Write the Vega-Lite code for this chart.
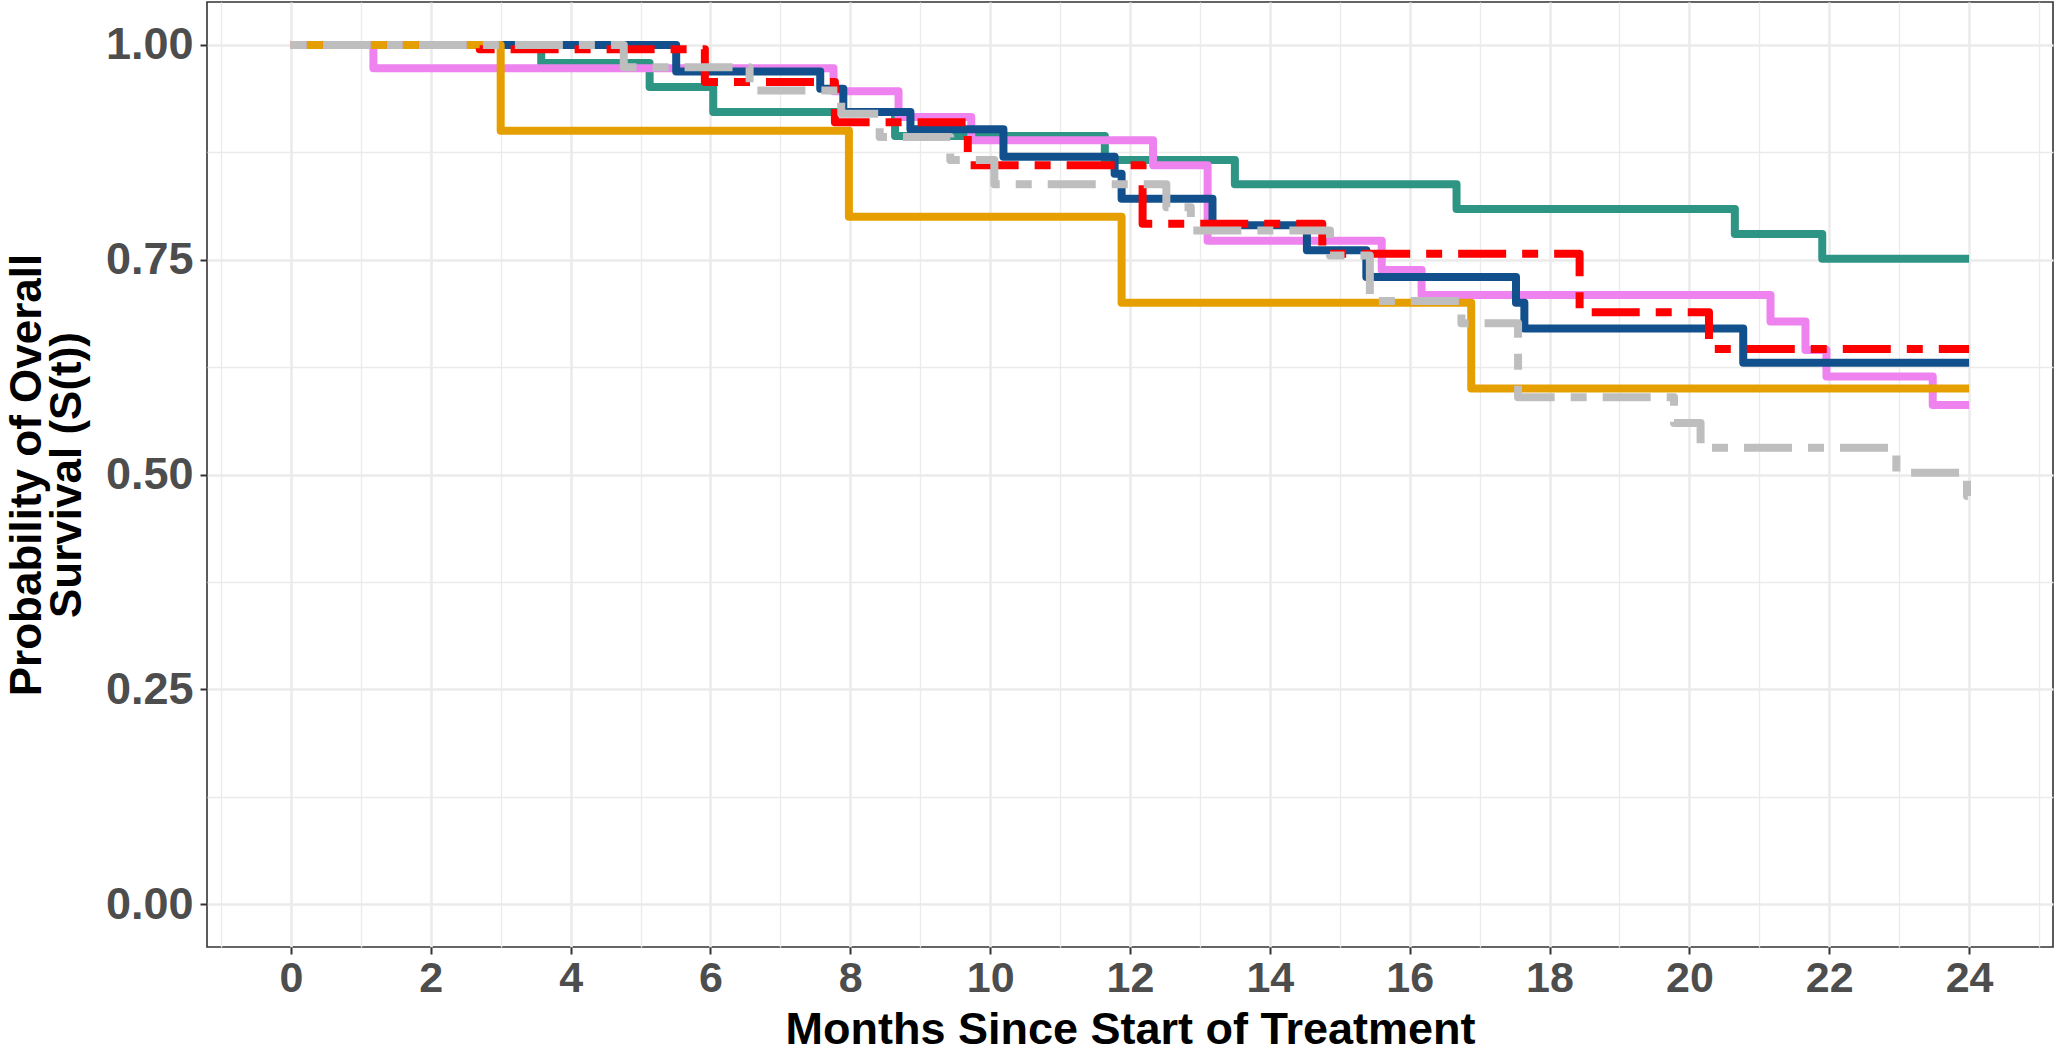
{
  "$schema": "https://vega.github.io/schema/vega-lite/v6.json",
  "width": 1846,
  "height": 945,
  "autosize": {"type": "none"},
  "padding": {"left": 207, "top": 2, "right": 2, "bottom": 105},
  "background": "white",
  "config": {
    "view": {"stroke": "#333333", "strokeWidth": 1.6},
    "font": "Liberation Sans"
  },
  "data": {
    "values": [
      {"g": "G1", "t": 0, "s": 1}, {"g": "G1", "t": 3.58, "s": 0.979}, {"g": "G1", "t": 5.13, "s": 0.951}, {"g": "G1", "t": 6.04, "s": 0.922}, {"g": "G1", "t": 8.64, "s": 0.894}, {"g": "G1", "t": 11.64, "s": 0.866}, {"g": "G1", "t": 13.5, "s": 0.838}, {"g": "G1", "t": 16.67, "s": 0.809}, {"g": "G1", "t": 20.65, "s": 0.78}, {"g": "G1", "t": 21.9, "s": 0.751}, {"g": "G1", "t": 24, "s": 0.751},
      {"g": "G2", "t": 0, "s": 1}, {"g": "G2", "t": 1.18, "s": 0.973}, {"g": "G2", "t": 7.76, "s": 0.946}, {"g": "G2", "t": 8.69, "s": 0.916}, {"g": "G2", "t": 9.73, "s": 0.889}, {"g": "G2", "t": 12.33, "s": 0.86}, {"g": "G2", "t": 13.11, "s": 0.772}, {"g": "G2", "t": 15.6, "s": 0.738}, {"g": "G2", "t": 16.17, "s": 0.709}, {"g": "G2", "t": 21.16, "s": 0.678}, {"g": "G2", "t": 21.66, "s": 0.645}, {"g": "G2", "t": 21.96, "s": 0.614}, {"g": "G2", "t": 23.48, "s": 0.581}, {"g": "G2", "t": 24, "s": 0.581},
      {"g": "G3", "t": 0, "s": 1}, {"g": "G3", "t": 5.51, "s": 0.969}, {"g": "G3", "t": 7.57, "s": 0.949}, {"g": "G3", "t": 7.9, "s": 0.922}, {"g": "G3", "t": 8.86, "s": 0.902}, {"g": "G3", "t": 10.19, "s": 0.87}, {"g": "G3", "t": 11.78, "s": 0.85}, {"g": "G3", "t": 11.88, "s": 0.821}, {"g": "G3", "t": 13.18, "s": 0.79}, {"g": "G3", "t": 14.53, "s": 0.761}, {"g": "G3", "t": 15.38, "s": 0.73}, {"g": "G3", "t": 17.52, "s": 0.7}, {"g": "G3", "t": 17.64, "s": 0.67}, {"g": "G3", "t": 20.77, "s": 0.63}, {"g": "G3", "t": 24, "s": 0.63},
      {"g": "G4", "t": 0, "s": 1}, {"g": "G4", "t": 3.0, "s": 0.9}, {"g": "G4", "t": 7.98, "s": 0.8}, {"g": "G4", "t": 11.88, "s": 0.7}, {"g": "G4", "t": 16.88, "s": 0.6}, {"g": "G4", "t": 24, "s": 0.6},
      {"g": "G5", "t": 0, "s": 1}, {"g": "G5", "t": 2.7, "s": 0.995}, {"g": "G5", "t": 5.92, "s": 0.957}, {"g": "G5", "t": 7.78, "s": 0.91}, {"g": "G5", "t": 9.68, "s": 0.86}, {"g": "G5", "t": 12.18, "s": 0.792}, {"g": "G5", "t": 14.75, "s": 0.757}, {"g": "G5", "t": 18.43, "s": 0.689}, {"g": "G5", "t": 20.28, "s": 0.646}, {"g": "G5", "t": 24, "s": 0.646},
      {"g": "G6", "t": 0, "s": 1}, {"g": "G6", "t": 4.76, "s": 0.974}, {"g": "G6", "t": 6.56, "s": 0.947}, {"g": "G6", "t": 7.87, "s": 0.92}, {"g": "G6", "t": 8.42, "s": 0.893}, {"g": "G6", "t": 9.43, "s": 0.866}, {"g": "G6", "t": 10.06, "s": 0.838}, {"g": "G6", "t": 12.52, "s": 0.811}, {"g": "G6", "t": 12.87, "s": 0.784}, {"g": "G6", "t": 14.86, "s": 0.755}, {"g": "G6", "t": 15.43, "s": 0.702}, {"g": "G6", "t": 16.74, "s": 0.676}, {"g": "G6", "t": 17.55, "s": 0.59}, {"g": "G6", "t": 19.78, "s": 0.56}, {"g": "G6", "t": 20.16, "s": 0.531}, {"g": "G6", "t": 22.96, "s": 0.502}, {"g": "G6", "t": 23.97, "s": 0.475}, {"g": "G6", "t": 24, "s": 0.475}
    ]
  },
  "mark": {"type": "line", "interpolate": "step-after", "strokeWidth": 8, "strokeJoin": "round", "strokeCap": "butt", "clip": true},
  "encoding": {
    "x": {
      "field": "t", "type": "quantitative",
      "scale": {"domain": [-1.2, 25.2], "nice": false, "zero": false},
      "axis": {
        "values": [-1,0,1,2,3,4,5,6,7,8,9,10,11,12,13,14,15,16,17,18,19,20,21,22,23,24,25],
        "labelExpr": "datum.value % 2 === 0 && datum.value >= 0 && datum.value <= 24 ? datum.label : ''",
        "domain": false,
        "grid": true,
        "gridColor": "#EBEBEB",
        "gridWidth": {"condition": {"test": "datum.value % 2 === 0", "value": 2.6}, "value": 1.3},
        "ticks": true,
        "tickColor": "#333333",
        "tickSize": 7,
        "tickWidth": 2,
        "tickOpacity": {"condition": {"test": "datum.value % 2 === 0 && datum.value >= 0 && datum.value <= 24", "value": 1}, "value": 0},
        "labelFont": "Liberation Sans",
        "labelFontWeight": "bold",
        "labelFontSize": 43,
        "labelColor": "#4D4D4D",
        "labelPadding": 3,
        "labelFlush": false,
        "labelOverlap": false,
        "title": "Months Since Start of Treatment",
        "titleFont": "Liberation Sans",
        "titleFontWeight": "bold",
        "titleFontSize": 45,
        "titleColor": "#000000",
        "titlePadding": 7
      }
    },
    "y": {
      "field": "s", "type": "quantitative",
      "scale": {"domain": [-0.05, 1.05], "nice": false, "zero": false},
      "axis": {
        "values": [0, 0.125, 0.25, 0.375, 0.5, 0.625, 0.75, 0.875, 1],
        "labelExpr": "(datum.value * 4) % 1 === 0 ? format(datum.value, '.2f') : ''",
        "domain": false,
        "grid": true,
        "gridColor": "#EBEBEB",
        "gridWidth": {"condition": {"test": "(datum.value * 4) % 1 === 0", "value": 2.6}, "value": 1.3},
        "ticks": true,
        "tickColor": "#333333",
        "tickSize": 7,
        "tickWidth": 2,
        "tickOpacity": {"condition": {"test": "(datum.value * 4) % 1 === 0", "value": 1}, "value": 0},
        "labelFont": "Liberation Sans",
        "labelFontWeight": "bold",
        "labelFontSize": 45,
        "labelColor": "#4D4D4D",
        "labelPadding": 7,
        "labelFlush": false,
        "labelOverlap": false,
        "title": ["Probability of Overall", "Survival (S(t))"],
        "titleFont": "Liberation Sans",
        "titleFontWeight": "bold",
        "titleFontSize": 44,
        "titleLineHeight": 40,
        "titleColor": "#000000",
        "titlePadding": 16
      }
    },
    "color": {
      "field": "g", "type": "nominal", "legend": null,
      "scale": {"domain": ["G1","G2","G3","G4","G5","G6"], "range": ["#2E9484", "#EE82EE", "#11508C", "#E69F00", "#FF0000", "#BEBEBE"]}
    },
    "strokeDash": {
      "field": "g", "type": "nominal", "legend": null,
      "scale": {"domain": ["G1","G2","G3","G4","G5","G6"], "range": [[1,0],[1,0],[1,0],[1,0],[16,16,48,16],[16,16,48,16]]}
    }
  }
}
